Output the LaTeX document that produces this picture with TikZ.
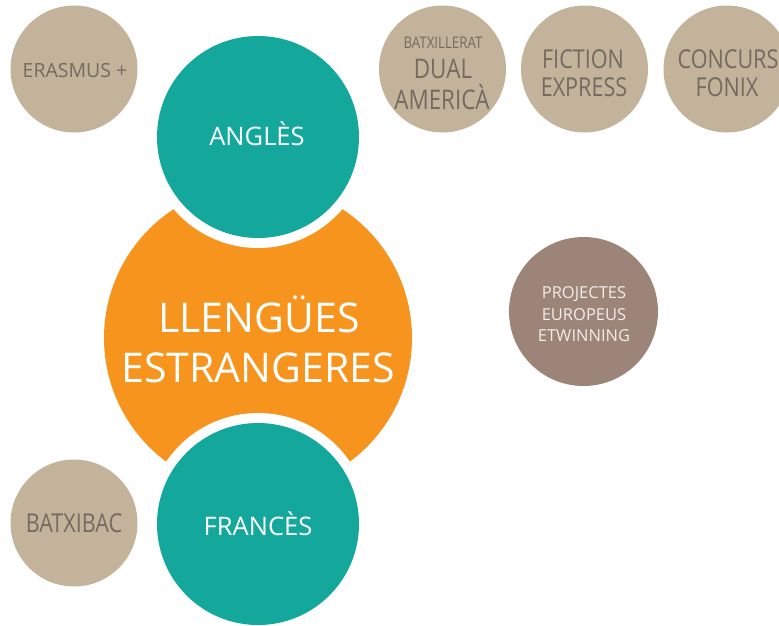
\documentclass[tikz,border=0pt]{standalone}
\usepackage{fontspec}
\setmainfont{Open Sans}
\newfontfamily\narrowfont[FakeStretch=0.83]{Open Sans}
\definecolor{orangeC}{HTML}{F7941E}
\definecolor{tealC}{HTML}{14A89D}
\definecolor{beigeC}{HTML}{C4B39B}
\definecolor{brownC}{HTML}{9C8578}
\definecolor{beigeText}{HTML}{736A60}
\definecolor{lightText}{HTML}{F2EDE8}
\tikzset{
  bubble/.style={circle, inner sep=0pt, outer sep=0pt, draw=none},
  smallbubble/.style={bubble, fill=beigeC, minimum size=127pt},
  txt/.style={anchor=base, inner sep=0pt, outer sep=0pt},
  beigetxt/.style={txt, text=beigeText},
}
\begin{document}
\begin{tikzpicture}[x=1pt,y=-1pt]
\useasboundingbox (0,0) rectangle (779,625);
\clip (0,0) rectangle (779,625);
% main orange circle with white rings
\node[bubble, fill=orangeC, minimum size=308pt] (main) at (258,338) {};
\node[bubble, fill=white, minimum size=222pt] (angW) at (258,137) {};
\node[bubble, fill=white, minimum size=222pt] (fraW) at (258,524) {};
\node[bubble, fill=tealC, minimum size=202pt] (ang) at (258,137) {};
\node[bubble, fill=tealC, minimum size=202pt] (fra) at (258,524) {};
% beige circles
\node[smallbubble] (eras) at (74,69) {};
\node[smallbubble] (dual) at (442.5,69) {};
\node[smallbubble] (fict) at (584.5,69) {};
\node[smallbubble] (conc) at (727,69) {};
\node[smallbubble] (batx) at (74,523) {};
\node[bubble, fill=brownC, minimum size=149pt] (proj) at (583.5,311.5) {};
% texts
\node[txt, text=white, font=\fontsize{41}{41}\selectfont] (t1) at (259,332) {LLENGÜES};
\node[txt, text=white, font=\fontsize{41}{41}\selectfont] (t2) at (258,382) {ESTRANGERES};
\node[txt, text=white, font=\fontsize{25.5}{25.5}\selectfont] (tang) at (257,145) {ANGLÈS};
\node[txt, text=white, font=\fontsize{25.5}{25.5}\selectfont] (tfra) at (258,535.5) {FRANCÈS};
\node[beigetxt, font=\fontsize{19.5}{19.5}\selectfont] (teras) at (75,77) {ERASMUS +};
\node[beigetxt, font=\narrowfont\fontsize{26}{26}\selectfont] (tbatx) at (74,532) {BATXIBAC};
\node[beigetxt, font=\narrowfont\fontsize{16}{16}\selectfont] (td1) at (443,48.5) {BATXILLERAT};
\node[beigetxt, font=\narrowfont\fontsize{27}{27}\selectfont] (td2) at (443,78) {DUAL};
\node[beigetxt, font=\narrowfont\fontsize{27}{27}\selectfont] (td3) at (442,109.5) {AMERICÀ};
\node[beigetxt, font=\narrowfont\fontsize{26}{26}\selectfont] (tf1) at (583,68) {FICTION};
\node[beigetxt, font=\narrowfont\fontsize{26}{26}\selectfont] (tf2) at (584,96) {EXPRESS};
\node[beigetxt, font=\narrowfont\fontsize{26}{26}\selectfont] (tc1) at (728,68) {CONCURS};
\node[beigetxt, font=\narrowfont\fontsize{26}{26}\selectfont] (tc2) at (727,96) {FONIX};
\node[txt, text=lightText, font=\fontsize{16.5}{16.5}\selectfont] (tp1) at (584,298.5) {PROJECTES};
\node[txt, text=lightText, font=\fontsize{16.5}{16.5}\selectfont] (tp2) at (584,320) {EUROPEUS};
\node[txt, text=lightText, font=\fontsize{16.5}{16.5}\selectfont] (tp3) at (584,341.5) {ETWINNING};
\end{tikzpicture}
\end{document}
